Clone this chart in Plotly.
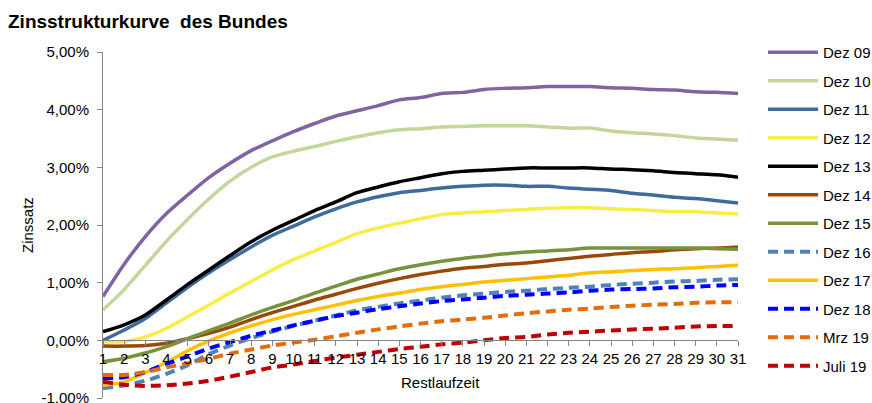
import plotly.graph_objects as go

# ---------------- data ----------------
laufzeit = list(range(1, 32))

dez09 = [0.76, 1.32, 1.80, 2.20, 2.52, 2.82, 3.07, 3.29, 3.46, 3.62, 3.76, 3.89, 3.98, 4.07, 4.17,
         4.21, 4.28, 4.30, 4.35, 4.37, 4.38, 4.40, 4.40, 4.40, 4.38, 4.37, 4.35, 4.34, 4.31, 4.30, 4.28]
dez10 = [0.53, 0.88, 1.30, 1.72, 2.10, 2.45, 2.76, 3.00, 3.18, 3.28, 3.36, 3.45, 3.53, 3.60, 3.65,
         3.67, 3.70, 3.71, 3.72, 3.72, 3.72, 3.70, 3.68, 3.68, 3.63, 3.60, 3.58, 3.55, 3.51, 3.49, 3.47]
dez11 = [0.00, 0.18, 0.38, 0.65, 0.92, 1.17, 1.40, 1.62, 1.82, 1.98, 2.14, 2.28, 2.40, 2.49, 2.56,
         2.60, 2.64, 2.67, 2.69, 2.69, 2.67, 2.67, 2.64, 2.62, 2.60, 2.55, 2.52, 2.48, 2.46, 2.42, 2.38]
dez12 = [-0.03, -0.02, 0.06, 0.21, 0.41, 0.61, 0.82, 1.02, 1.22, 1.40, 1.55, 1.70, 1.85, 1.95, 2.03,
         2.11, 2.18, 2.21, 2.23, 2.25, 2.27, 2.29, 2.30, 2.30, 2.28, 2.27, 2.25, 2.23, 2.23, 2.21, 2.19]
dez13 = [0.15, 0.27, 0.44, 0.70, 0.97, 1.22, 1.47, 1.71, 1.91, 2.08, 2.25, 2.40, 2.56, 2.66, 2.75,
         2.82, 2.89, 2.93, 2.95, 2.97, 2.99, 2.99, 2.99, 2.99, 2.97, 2.96, 2.94, 2.91, 2.89, 2.87, 2.83]
dez14 = [-0.10, -0.10, -0.09, -0.05, 0.03, 0.12, 0.23, 0.36, 0.48, 0.59, 0.70, 0.80, 0.90, 0.99, 1.07,
         1.14, 1.20, 1.25, 1.28, 1.32, 1.34, 1.38, 1.42, 1.46, 1.49, 1.52, 1.54, 1.57, 1.59, 1.60, 1.62]
dez15 = [-0.37, -0.31, -0.22, -0.11, 0.03, 0.17, 0.30, 0.44, 0.57, 0.69, 0.82, 0.94, 1.06, 1.15, 1.24,
         1.31, 1.37, 1.42, 1.46, 1.50, 1.53, 1.55, 1.57, 1.60, 1.60, 1.60, 1.60, 1.60, 1.60, 1.59, 1.58]
dez16 = [-0.83, -0.78, -0.70, -0.58, -0.43, -0.24, -0.09, 0.04, 0.15, 0.25, 0.34, 0.43, 0.52, 0.58, 0.64,
         0.69, 0.74, 0.78, 0.81, 0.84, 0.86, 0.89, 0.91, 0.93, 0.96, 0.98, 1.00, 1.02, 1.03, 1.05, 1.06]
dez17 = [-0.78, -0.72, -0.56, -0.38, -0.18, -0.01, 0.13, 0.25, 0.36, 0.45, 0.53, 0.61, 0.69, 0.76, 0.82,
         0.88, 0.93, 0.97, 1.01, 1.04, 1.07, 1.10, 1.13, 1.17, 1.19, 1.21, 1.23, 1.24, 1.26, 1.28, 1.30]
dez18 = [-0.66, -0.64, -0.55, -0.41, -0.28, -0.14, -0.03, 0.08, 0.17, 0.26, 0.34, 0.42, 0.48, 0.54, 0.59,
         0.64, 0.68, 0.71, 0.74, 0.77, 0.79, 0.81, 0.83, 0.86, 0.88, 0.89, 0.90, 0.92, 0.93, 0.95, 0.96]
mrz19 = [-0.60, -0.60, -0.55, -0.47, -0.40, -0.32, -0.23, -0.16, -0.09, -0.04, 0.01, 0.07, 0.13, 0.19, 0.24,
         0.29, 0.33, 0.36, 0.39, 0.43, 0.47, 0.50, 0.53, 0.55, 0.58, 0.60, 0.62, 0.63, 0.65, 0.66, 0.66]
juli19 = [-0.72, -0.77, -0.79, -0.78, -0.75, -0.70, -0.63, -0.55, -0.47, -0.42, -0.36, -0.30, -0.25, -0.20, -0.15,
          -0.11, -0.07, -0.04, 0.00, 0.04, 0.06, 0.10, 0.13, 0.15, 0.17, 0.19, 0.20, 0.22, 0.24, 0.25, 0.25]

series_names = ["Dez 09", "Dez 10", "Dez 11", "Dez 12", "Dez 13", "Dez 14",
                "Dez 15", "Dez 16", "Dez 17", "Dez 18", "Mrz 19", "Juli 19"]
series_values = [dez09, dez10, dez11, dez12, dez13, dez14, dez15, dez16, dez17, dez18, mrz19, juli19]
series_colors = ["#8064A2", "#C3D69B", "#3F6A9E", "#F7EE45", "#000000", "#984807",
                 "#77933C", "#4F81BD", "#FFC000", "#0000FF", "#E46C0A", "#C00000"]
series_dashed = [False, False, False, False, False, False, False, True, False, True, True, True]

y_tickvals = [-1, 0, 1, 2, 3, 4, 5]
y_ticktext = ["-1,00%", "0,00%", "1,00%", "2,00%", "3,00%", "4,00%", "5,00%"]

FONT = "Liberation Sans, Arial, sans-serif"
W, H = 872, 403
L, R, T, B = 103, 134, 52, 5
pw, ph = W - L - R, H - T - B

fig = go.Figure()
for name, vals, col, dsh in zip(series_names, series_values, series_colors, series_dashed):
    fig.add_trace(go.Scatter(
        x=laufzeit, y=vals, name=name, mode="lines",
        legendgroup=name,
        line=dict(color=col, width=4 if dsh else 3.5, dash="10px,6px" if dsh else "solid",
                  shape="spline", smoothing=0.8),
    ))

ymin, ymax = -1, 5
fig.update_layout(
    width=W, height=H,
    margin=dict(l=L, r=R, t=T, b=B, autoexpand=False),
    paper_bgcolor="white", plot_bgcolor="white",
    separators=",.",
    font=dict(family=FONT, size=15, color="#000000"),
    title=dict(text="Zinsstrukturkurve\u00a0\u00a0des Bundes", x=8 / W, xanchor="left", xref="container",
               y=1 - 21 / H, yanchor="middle", yref="container",
               font=dict(family=FONT, size=19, color="#000000", weight="bold")),
    xaxis=dict(range=[1, 31], tickmode="array", tickvals=laufzeit, ticktext=[str(v) for v in laufzeit],
               showgrid=False, zeroline=False, showline=True, linecolor="#868686", linewidth=1,
               ticks="outside", ticklen=5, tickcolor="#868686",
               anchor="free", position=(0 - ymin) / (ymax - ymin),
               tickfont=dict(size=15), fixedrange=True, automargin=False),
    yaxis=dict(range=[ymin, ymax], tickmode="array", tickvals=y_tickvals, ticktext=y_ticktext,
               showgrid=False, zeroline=False, showline=True, linecolor="#868686", linewidth=1,
               ticks="outside", ticklen=5, tickcolor="#868686", tickfont=dict(size=15),
               ticklabelstandoff=5, ticklabeloverflow="allow", automargin=False),
    legend=dict(x=(763 - L) / pw, xanchor="left", y=1 - (36 - T) / ph, yanchor="top",
                font=dict(size=15), tracegroupgap=6, traceorder="grouped", itemwidth=50,
                maxheight=400, bgcolor="rgba(0,0,0,0)"),
    showlegend=True,
    annotations=[
        dict(text="Zinssatz", xref="paper", yref="paper", x=(27 - L) / pw, y=0.5, textangle=-90,
             showarrow=False, xanchor="center", yanchor="middle", font=dict(size=15)),
        dict(text="Restlaufzeit", xref="paper", yref="paper", x=(440 - L) / pw, y=1 - (382 - T) / ph,
             showarrow=False, xanchor="center", yanchor="middle", font=dict(size=15)),
    ],
)

fig.write_html("out.html")
